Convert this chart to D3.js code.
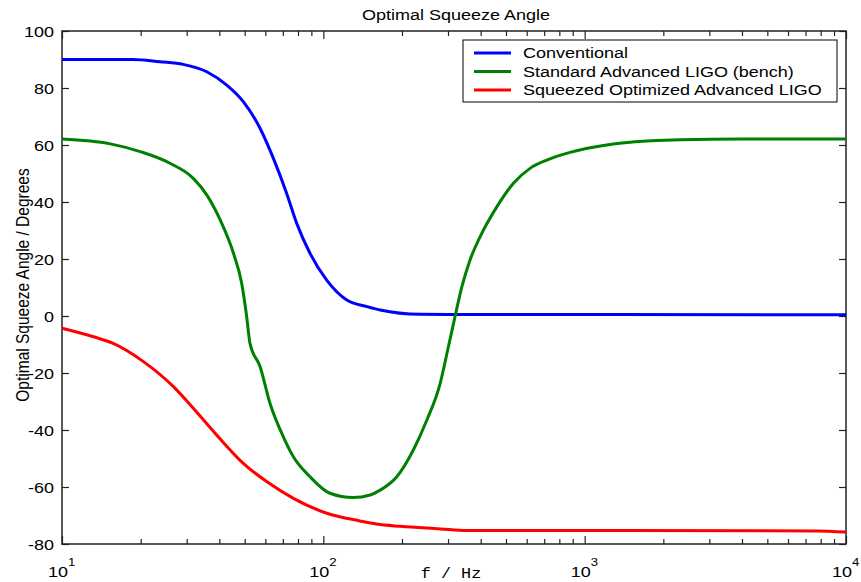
<!DOCTYPE html>
<html>
<head>
<meta charset="utf-8">
<script src="https://cdn.jsdelivr.net/npm/d3@7"></script>
<style>
  body { margin: 0; background: #fff; }
  svg { display: block; }
  text { font-family: "Liberation Sans", Arial, sans-serif; fill: #000; }
</style>
</head>
<body>
<svg></svg>
<script>
// curves
const freqBlue = [10, 18.7, 23.7, 29.1, 35.8, 42.7, 49.4, 57.3, 64.4, 72.4, 79.1, 88.9, 103, 123, 147, 165, 234, 400, 1000, 10000];
const conventional = [90, 90, 89.2, 88.3, 85.7, 81, 75.2, 65.8, 55.3, 43, 32.5, 22, 12.6, 5.6, 3.3, 2.1, 0.6, 0.5, 0.5, 0.4];

const freqGreen = [10, 15.3, 19.9, 25.9, 31.8, 35.8, 40.3, 45.3, 48.7, 50.9, 52.4, 57.3, 62.5, 70.3, 76.8, 88.9, 106, 130, 151, 165, 191, 221, 249, 280, 301, 319, 339, 364, 398, 461, 534, 618, 716, 879, 1214, 1727, 2317, 4000, 10000];
const standard = [62.1, 60.4, 57.7, 53.6, 48.3, 42.5, 33.7, 22, 11.5, -0.25, -9.6, -17.8, -30.6, -42.4, -49.4, -56.4, -62.2, -63.7, -62.8, -61.1, -56.4, -47, -36.5, -23.6, -10.8, -0.25, 10.3, 19.6, 27.8, 38.3, 46.6, 51.8, 54.7, 57.4, 60, 61.4, 61.8, 62.1, 62.1];

const freqRed = [10, 13.2, 15.7, 20.5, 26.7, 31.8, 39.1, 49.4, 60.7, 76.8, 103, 138, 160, 197, 280, 354, 1000, 7700, 10000];
const squeezed = [-4.3, -7.3, -9.6, -16, -24.8, -32.4, -41.8, -51.7, -58.1, -64, -69.2, -71.9, -73, -73.8, -74.7, -75.3, -75.3, -75.4, -75.8];

const seriesNames = ["Conventional", "Standard Advanced LIGO (bench)", "Squeezed Optimized Advanced LIGO"];
const seriesColors = ["#0000ff", "#008000", "#ff0000"];
const yTicks = [-80, -60, -40, -20, 0, 20, 40, 60, 80, 100];
const xMajor = [10, 100, 1000, 10000];
const xExp = ["1", "2", "3", "4"];

const width = 861;
const height = 582;
const plotL = 62, plotR = 846, plotT = 31, plotB = 544;
const stretch = 1.2;

const svg = d3.select("svg")
  .attr("width", width)
  .attr("height", height);

const x = d3.scaleLog().domain([10, 10000]).range([plotL, plotR]);
const y = d3.scaleLinear().domain([-80, 100]).range([plotB, plotT]);

const xMinor = [];
for (let d = 10; d < 10000; d *= 10) {
  for (let k = 2; k <= 9; k++) xMinor.push(d * k);
}

// stretched text, the source picture is wider than it is tall
function label(g, px, py, str, size, anchor) {
  return g.append("g")
    .attr("transform", `translate(${px},${py}) scale(${stretch},1)`)
    .append("text")
    .attr("text-anchor", anchor || "start")
    .style("font-size", size + "px")
    .text(str);
}

function ticks(axis, vals, size) {
  return axis.tickValues(vals).tickSize(size).tickFormat("");
}

const axes = svg.append("g").attr("class", "axes");
axes.append("g").attr("transform", `translate(0,${plotB})`).call(ticks(d3.axisBottom(x), xMajor, -8));
axes.append("g").attr("transform", `translate(0,${plotB})`).call(ticks(d3.axisBottom(x), xMinor, -5));
axes.append("g").attr("transform", `translate(0,${plotT})`).call(ticks(d3.axisTop(x), xMajor, -8));
axes.append("g").attr("transform", `translate(0,${plotT})`).call(ticks(d3.axisTop(x), xMinor, -5));
axes.append("g").attr("transform", `translate(${plotL},0)`).call(ticks(d3.axisLeft(y), yTicks, -7));
axes.append("g").attr("transform", `translate(${plotR},0)`).call(ticks(d3.axisRight(y), yTicks, -7));
axes.selectAll(".domain").remove();
axes.selectAll(".tick line").attr("stroke", "#222").attr("stroke-width", 1.2);

svg.append("rect")
  .attr("x", plotL).attr("y", plotT)
  .attr("width", plotR - plotL).attr("height", plotB - plotT)
  .attr("fill", "none")
  .attr("stroke", "#222")
  .attr("stroke-width", 1.5);

// y tick labels
yTicks.forEach(v => {
  label(svg, 54, y(v) + 5.5, v, 15, "end");
});

// x tick labels 10^n
xMajor.forEach((v, i) => {
  const t = svg.append("g")
    .attr("transform", `translate(${x(v) - 14},577) scale(${stretch},1)`)
    .append("text")
    .style("font-size", "15px");
  t.append("tspan").text("10");
  t.append("tspan").attr("dy", -11).style("font-size", "11px").text(xExp[i]);
});

// curves
const line = d3.line()
  .x(d => x(d[0]))
  .y(d => y(d[1]))
  .curve(d3.curveMonotoneX);

const curves = [
  d3.zip(freqBlue, conventional),
  d3.zip(freqGreen, standard),
  d3.zip(freqRed, squeezed)
];

svg.append("g")
  .selectAll("path")
  .data(curves)
  .enter()
  .append("path")
    .attr("d", line)
    .attr("fill", "none")
    .attr("stroke", (d, i) => seriesColors[i])
    .attr("stroke-width", 3);

// title and axis labels
label(svg, 456, 20, "Optimal Squeeze Angle", 15, "middle");

svg.append("g")
  .attr("transform", `translate(451,578) scale(${stretch},1)`)
  .append("text")
  .attr("text-anchor", "middle")
  .style("font-family", "'Liberation Mono', monospace")
  .style("font-size", "14px")
  .text("f / Hz");

svg.append("g")
  .attr("transform", `translate(29,285) scale(${stretch},1) rotate(-90)`)
  .append("text")
  .attr("text-anchor", "middle")
  .style("font-size", "15.5px")
  .text("Optimal Squeeze Angle / Degrees");

// legend
const legend = svg.append("g");
legend.append("rect")
  .attr("x", 463).attr("y", 40)
  .attr("width", 374).attr("height", 62)
  .attr("fill", "#fff")
  .attr("stroke", "#000")
  .attr("stroke-width", 1);

seriesNames.forEach((name, i) => {
  const ly = 53 + i * 18.5;
  legend.append("line")
    .attr("x1", 474).attr("x2", 511)
    .attr("y1", ly).attr("y2", ly)
    .attr("stroke", seriesColors[i])
    .attr("stroke-width", 3);
  label(legend, 523, ly + 5, name, 15, "start");
});
</script>
</body>
</html>
